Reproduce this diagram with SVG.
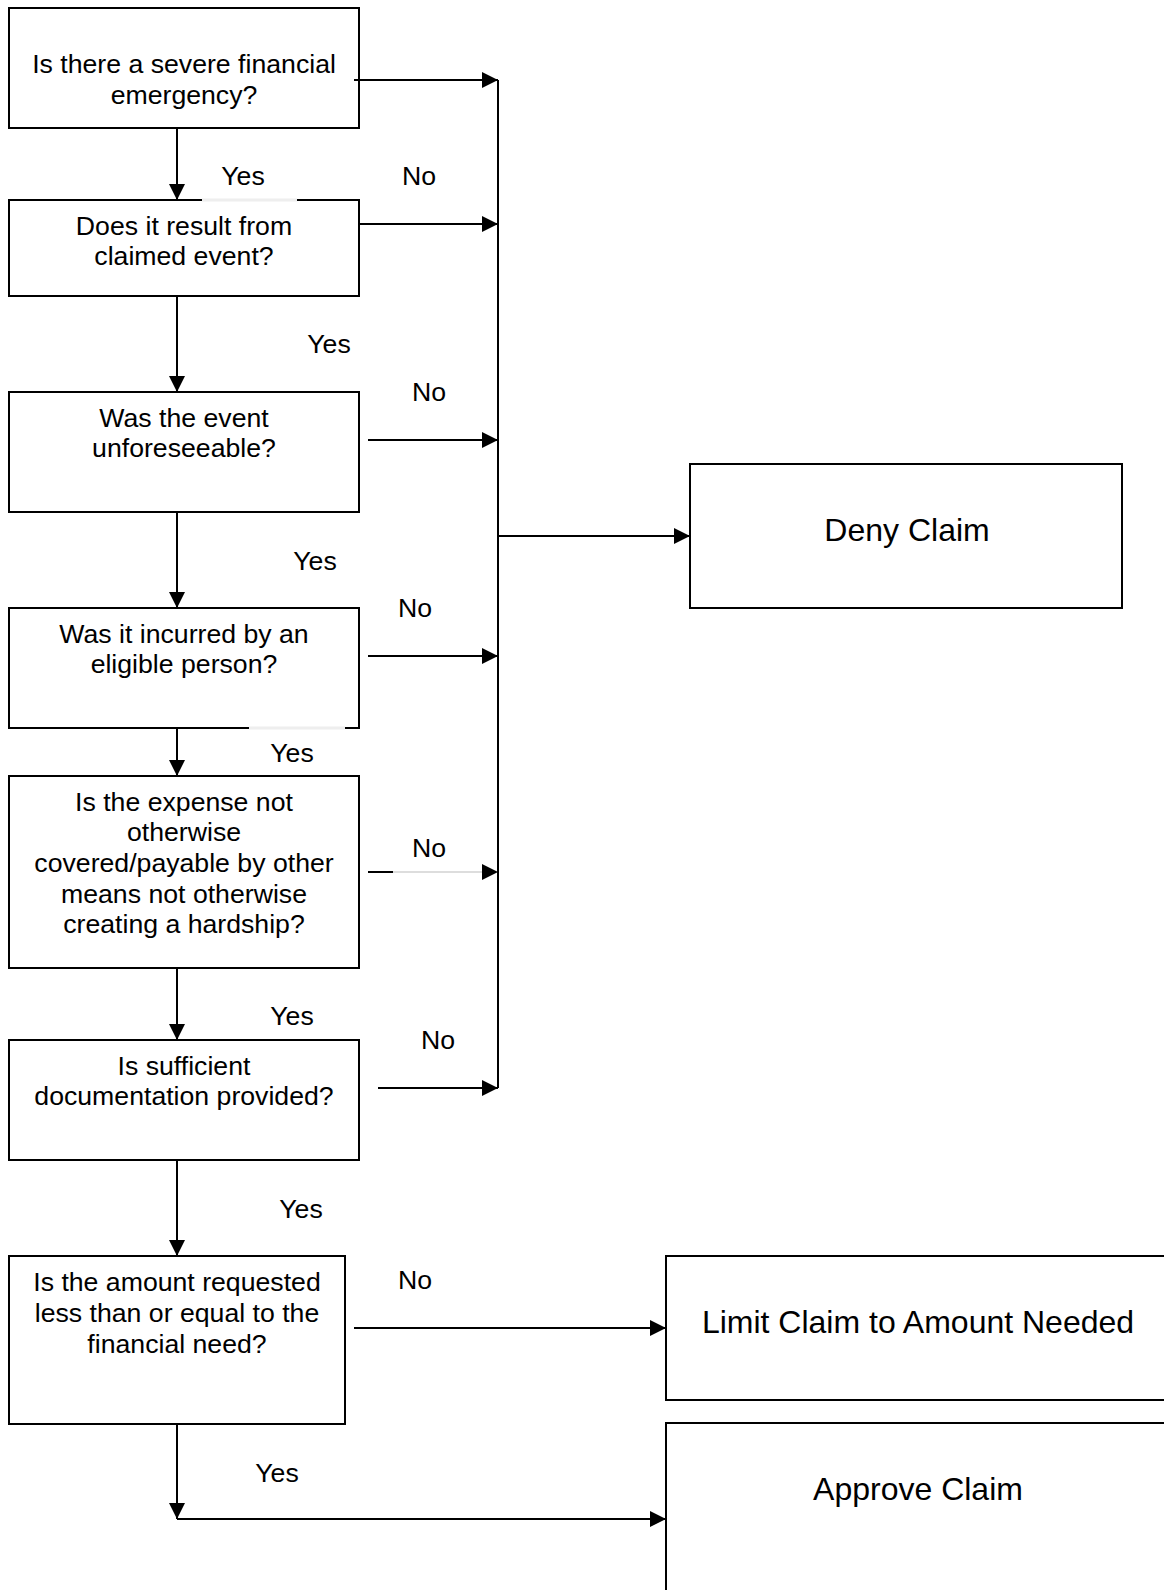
<svg xmlns="http://www.w3.org/2000/svg" width="1164" height="1590" viewBox="0 0 1164 1590">
<style>
.box{fill:#fff;stroke:#000;stroke-width:2}
.t{font-family:"Liberation Sans",Arial,sans-serif;font-size:26.67px;fill:#000;text-anchor:middle}
.big{font-size:32px}
.c{fill:none;stroke:#000;stroke-width:2}
.g{fill:none;stroke:#bbb;stroke-width:1}
</style>
<defs>
<marker id="ah" viewBox="0 0 16 16" refX="16" refY="8" markerWidth="16" markerHeight="16" markerUnits="userSpaceOnUse" orient="auto">
<path d="M0,0 L16,8 L0,16 Z" fill="#000"/>
</marker>
</defs>
<rect width="1164" height="1590" fill="#fff"/>

<g id="q1">
<rect class="box" x="9" y="8" width="350" height="120"/>
<text class="t" x="184" y="73">Is there a severe financial</text>
<text class="t" x="184" y="104">emergency?</text>
</g>
<g id="q2">
<rect class="box" x="9" y="200" width="350" height="96"/>
<line x1="202" y1="200" x2="297" y2="200" stroke="#eee" stroke-width="3"/>
<text class="t" x="184" y="235">Does it result from</text>
<text class="t" x="184" y="265">claimed event?</text>
</g>
<g id="q3">
<rect class="box" x="9" y="392" width="350" height="120"/>
<text class="t" x="184" y="427">Was the event</text>
<text class="t" x="184" y="457">unforeseeable?</text>
</g>
<g id="q4">
<rect class="box" x="9" y="608" width="350" height="120"/>
<line x1="249" y1="728" x2="345" y2="728" stroke="#eee" stroke-width="3"/>
<text class="t" x="184" y="643">Was it incurred by an</text>
<text class="t" x="184" y="673">eligible person?</text>
</g>
<g id="q5">
<rect class="box" x="9" y="776" width="350" height="192"/>
<text class="t" x="184" y="811">Is the expense not</text>
<text class="t" x="184" y="841">otherwise</text>
<text class="t" x="184" y="872">covered/payable by other</text>
<text class="t" x="184" y="903">means not otherwise</text>
<text class="t" x="184" y="933">creating a hardship?</text>
</g>
<g id="q6">
<rect class="box" x="9" y="1040" width="350" height="120"/>
<text class="t" x="184" y="1075">Is sufficient</text>
<text class="t" x="184" y="1105">documentation provided?</text>
</g>
<g id="q7">
<rect class="box" x="9" y="1256" width="336" height="168"/>
<text class="t" x="177" y="1291">Is the amount requested</text>
<text class="t" x="177" y="1322">less than or equal to the</text>
<text class="t" x="177" y="1353">financial need?</text>
</g>
<g id="deny">
<rect class="box" x="690" y="464" width="432" height="144"/>
<text class="t big" x="907" y="541">Deny Claim</text>
</g>
<g id="limit">
<rect class="box" x="666" y="1256" width="520" height="144"/>
<text class="t big" x="918" y="1333">Limit Claim to Amount Needed</text>
</g>
<g id="approve">
<rect class="box" x="666" y="1423" width="520" height="200"/>
<text class="t big" x="918" y="1500">Approve Claim</text>
</g>

<g id="connectors">
<line class="c" x1="177" y1="128" x2="177" y2="200" marker-end="url(#ah)"/>
<line class="c" x1="177" y1="296" x2="177" y2="392" marker-end="url(#ah)"/>
<line class="c" x1="177" y1="512" x2="177" y2="608" marker-end="url(#ah)"/>
<line class="c" x1="177" y1="728" x2="177" y2="776" marker-end="url(#ah)"/>
<line class="c" x1="177" y1="968" x2="177" y2="1040" marker-end="url(#ah)"/>
<line class="c" x1="177" y1="1160" x2="177" y2="1256" marker-end="url(#ah)"/>
<line class="c" x1="177" y1="1424" x2="177" y2="1519" marker-end="url(#ah)"/>
<line class="c" x1="177" y1="1519" x2="666" y2="1519" marker-end="url(#ah)"/>

<line class="c" x1="354" y1="80" x2="498" y2="80" marker-end="url(#ah)"/>
<line class="c" x1="359" y1="224" x2="498" y2="224" marker-end="url(#ah)"/>
<line class="c" x1="368" y1="440" x2="498" y2="440" marker-end="url(#ah)"/>
<line class="c" x1="368" y1="656" x2="498" y2="656" marker-end="url(#ah)"/>
<line class="c" x1="368" y1="872" x2="393" y2="872"/>
<line class="g" x1="393" y1="872" x2="498" y2="872" marker-end="url(#ah)"/>
<line class="c" x1="378" y1="1088" x2="498" y2="1088" marker-end="url(#ah)"/>
<line class="c" x1="498" y1="80" x2="498" y2="1088"/>
<line class="c" x1="498" y1="536" x2="690" y2="536" marker-end="url(#ah)"/>
<line class="c" x1="354" y1="1328" x2="666" y2="1328" marker-end="url(#ah)"/>

<text class="t" x="243" y="185">Yes</text>
<text class="t" x="419" y="185">No</text>
<text class="t" x="329" y="353">Yes</text>
<text class="t" x="429" y="401">No</text>
<text class="t" x="315" y="570">Yes</text>
<text class="t" x="415" y="617">No</text>
<text class="t" x="292" y="762">Yes</text>
<text class="t" x="429" y="857">No</text>
<text class="t" x="292" y="1025">Yes</text>
<text class="t" x="438" y="1049">No</text>
<text class="t" x="301" y="1218">Yes</text>
<text class="t" x="415" y="1289">No</text>
<text class="t" x="277" y="1482">Yes</text>
</g>
</svg>
